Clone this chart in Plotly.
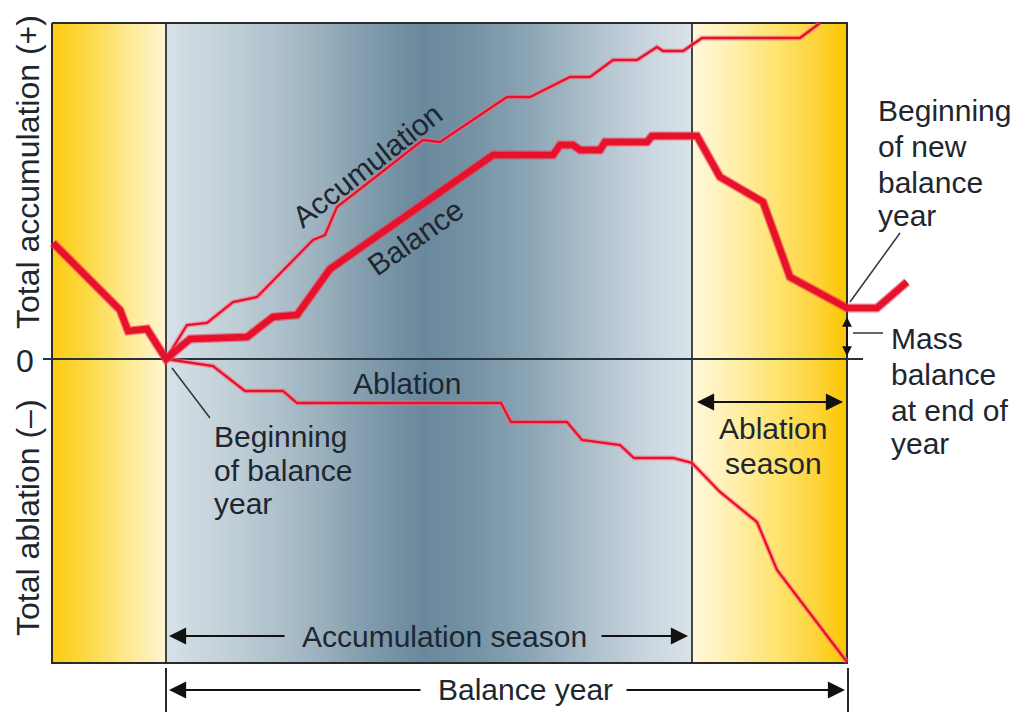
import numpy as np
import plotly.graph_objects as go

# ---------------- data (time from start of balance year, mass relative to 0) ----------------
balance_t = [-113, -46, -38, -19, 0, 24, 81, 107, 131, 164, 327, 387, 394, 407, 414, 434,
             439, 481, 486, 531, 554, 597, 624, 681, 711, 741]
balance_v = [116, 49, 28, 30, 0, 20, 22, 42, 44, 90, 204, 204, 214, 214, 209, 209,
             217, 217, 223, 223, 182, 157, 82, 51, 51, 77]

accum_t = [0, 21, 41, 67, 91, 147, 159, 171, 257, 274, 341, 364, 404, 424, 447, 471,
           491, 497, 517, 536, 634, 654]
accum_v = [0, 34, 36, 57, 62, 119, 124, 152, 219, 217, 262, 262, 282, 282, 299, 299,
           312, 308, 308, 321, 321, 336]

ablation_t = [0, 47, 79, 117, 131, 335, 345, 401, 416, 454, 468, 507, 526, 554, 591, 611, 681]
ablation_v = [0, -7, -32, -32, -44, -44, -63, -63, -81, -86, -99, -99, -104, -133, -163, -211, -303]

# season boundaries (time units) and vertical limits (mass units)
prev_season_start = -114
accum_season_start = 0
ablation_season_start = 526
year_end = 681
v_top, v_bottom = 336, -304

# ---------------- styling helpers (pixel layout -> axis units) ----------------
X0_PX, ZERO_PX = 166, 359
PAGE_MARGIN = 8  # browser body margin around the figure
def X(px):
    return px - X0_PX
def Y(py):
    return ZERO_PX - py

FONT = "Liberation Sans, Arial, sans-serif"
TXT = "#1e2630"
RED = "#e8112b"

left_stops = [(0.0, "#fccb12"), (0.3, "#fdd843"), (0.65, "#fee98f"), (1.0, "#fff5d2")]
mid_stops = [(0.0, "#d6e1e7"), (0.15, "#bccbd4"), (0.29, "#9cb2be"), (0.40, "#7c98aa"),
             (0.49, "#6a889c"), (0.58, "#7592a4"), (0.68, "#88a3b3"), (0.79, "#a8bcc8"),
             (0.90, "#c6d3dd"), (1.0, "#d9e3ea")]
right_stops = [(0.0, "#fff8da"), (0.25, "#fff0b0"), (0.55, "#fee36e"), (0.8, "#fdd43a"), (1.0, "#fbc600")]

fig = go.Figure()

def band(t0, t1, stops):
    n = 200
    edges = np.linspace(t0, t1, n + 1)
    centers = (edges[:-1] + edges[1:]) / 2
    fig.add_trace(go.Heatmap(
        x=edges, y=[v_bottom, 0, v_top], z=[centers, centers],
        colorscale=[[p, c] for p, c in stops], zmin=t0, zmax=t1,
        showscale=False, hoverinfo="skip", zsmooth=False))

band(prev_season_start, accum_season_start, left_stops)
band(accum_season_start, ablation_season_start, mid_stops)
band(ablation_season_start, year_end, right_stops)

# structural lines
def seg(xs, ys, color="#222", width=2):
    fig.add_trace(go.Scatter(x=xs, y=ys, mode="lines", line=dict(color=color, width=width),
                             hoverinfo="skip", showlegend=False))

seg([prev_season_start, year_end, year_end, prev_season_start, prev_season_start],
    [v_top, v_top, v_bottom, v_bottom, v_top], "#2a2a2a", 2)
seg([accum_season_start, accum_season_start], [v_bottom, v_top], "#1a1a1a", 1.6)
seg([ablation_season_start, ablation_season_start], [v_bottom, v_top], "#1a1a1a", 1.6)
seg([X(43), X(863)], [0, 0], "#26323c", 2)

# data lines (halo + line)
for t, v in [(accum_t, accum_v), (ablation_t, ablation_v)]:
    fig.add_trace(go.Scatter(x=t, y=v, mode="lines", line=dict(color="rgba(255,110,130,0.55)", width=5),
                             hoverinfo="skip", showlegend=False))
    fig.add_trace(go.Scatter(x=t, y=v, mode="lines", line=dict(color=RED, width=2.3),
                             hoverinfo="skip", showlegend=False))
fig.add_trace(go.Scatter(x=balance_t, y=balance_v, mode="lines",
                         line=dict(color="rgba(240,60,80,0.6)", width=9), hoverinfo="skip", showlegend=False))
fig.add_trace(go.Scatter(x=balance_t, y=balance_v, mode="lines",
                         line=dict(color=RED, width=6.5), hoverinfo="skip", showlegend=False))

ann = []
def text(s, px, py, size=30, angle=0, xanchor="center"):
    ann.append(dict(x=X(px), y=Y(py), text=s, showarrow=False, textangle=angle,
                    xanchor=xanchor, yanchor="middle",
                    font=dict(family=FONT, size=size, color=TXT)))

def arrow(tip_px, tip_py, tail_px, tail_py, size=1.9, width=1.8):
    ann.append(dict(x=X(tip_px), y=Y(tip_py), ax=X(tail_px), ay=Y(tail_py),
                    axref="x", ayref="y", xref="x", yref="y", text="",
                    showarrow=True, arrowhead=2, arrowsize=size, arrowwidth=width,
                    arrowcolor="#111", standoff=0, startstandoff=0))

text("Accumulation", 367, 165, angle=-38)
text("Balance", 415, 237, angle=-35)
text("Ablation", 407, 383)
text("Beginning", 212, 436, xanchor="left")
text("of balance", 212, 470, xanchor="left")
text("year", 212, 503, xanchor="left")
text("Ablation", 773, 428)
text("season", 773, 463)
text("Beginning", 876, 110, xanchor="left")
text("of new", 876, 146, xanchor="left")
text("balance", 876, 182, xanchor="left")
text("year", 876, 215, xanchor="left")
text("Mass", 889, 338, xanchor="left")
text("balance", 889, 374, xanchor="left")
text("at end of", 889, 410, xanchor="left")
text("year", 889, 443, xanchor="left")
text("Accumulation season", 444, 636)
text("Balance year", 525, 689)
text("0", 25, 361, size=32)
text("Total accumulation (+)", 28, 172, size=32, angle=-90)
text("Total ablation (–)", 28, 518, size=32, angle=-90)

# arrows
arrow(169, 636, 286, 636)
arrow(688, 636, 600, 636)
arrow(169, 690, 422, 690)
arrow(845, 690, 625, 690)
arrow(697, 402, 843, 402)
arrow(843, 402, 697, 402)
arrow(847, 317, 847, 356, size=1.3, width=1.5)
arrow(847, 356, 847, 317, size=1.3, width=1.5)

shapes = []
def line_px(x0, y0, x1, y1, w=1.5, c="#333"):
    shapes.append(dict(type="line", xref="x", yref="y", x0=X(x0), y0=Y(y0), x1=X(x1), y1=Y(y1),
                       line=dict(color=c, width=w)))

line_px(172, 368, 210, 418)
line_px(850, 302, 900, 233)
line_px(853, 333, 883, 333)
line_px(166, 668, 166, 712, 1.8, "#111")
line_px(848, 668, 848, 712, 1.8, "#111")

W, H = 1018, 713
fig.update_layout(
    width=W - PAGE_MARGIN, height=H - PAGE_MARGIN, margin=dict(l=0, r=0, t=0, b=0),
    paper_bgcolor="white", plot_bgcolor="white", showlegend=False,
    xaxis=dict(range=[X(PAGE_MARGIN), X(W)], visible=False, fixedrange=True),
    yaxis=dict(range=[Y(H), Y(PAGE_MARGIN)], visible=False, fixedrange=True),
    annotations=ann, shapes=shapes,
)

fig.write_html("out.html")
